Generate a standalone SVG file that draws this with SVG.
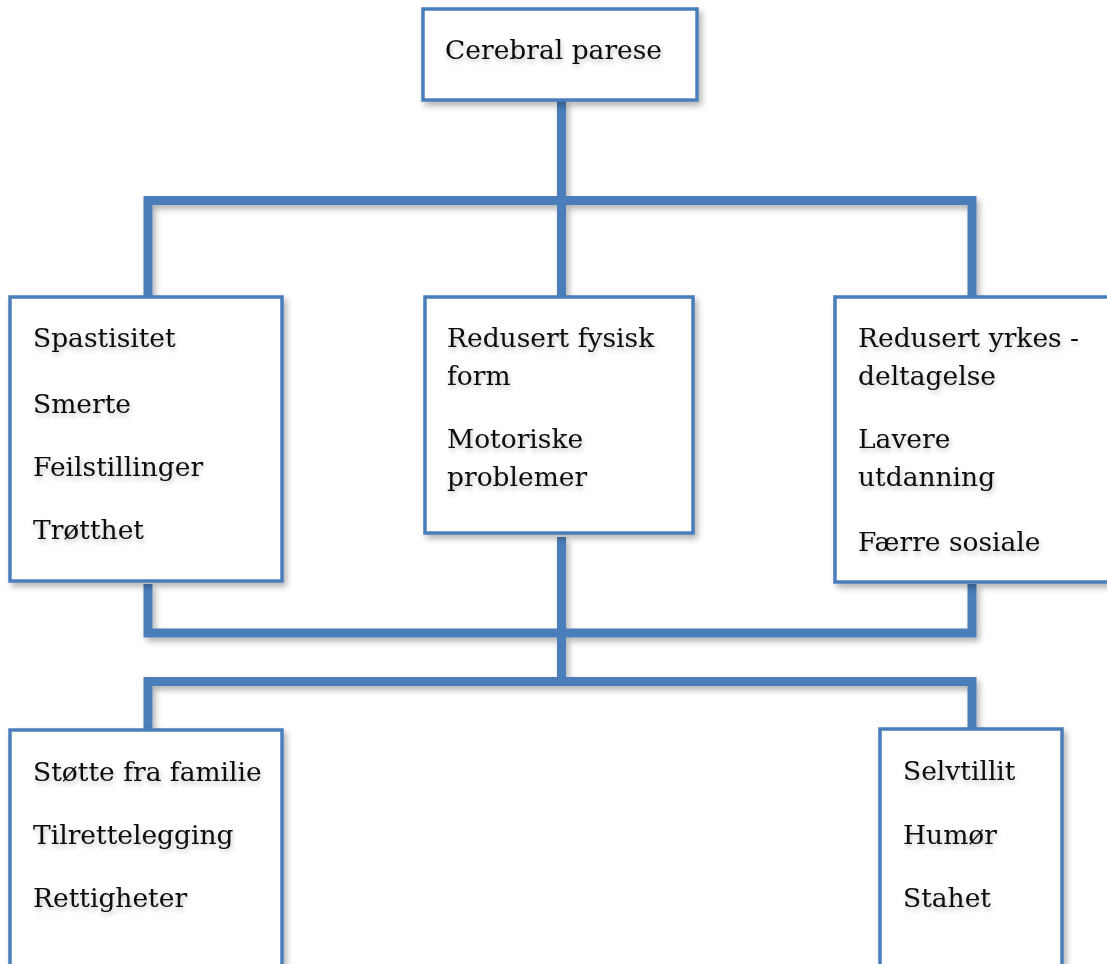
<svg xmlns="http://www.w3.org/2000/svg" width="1107" height="964" viewBox="0 0 1107 964">
<defs>
<filter id="sh" x="-10%" y="-10%" width="130%" height="130%">
<feGaussianBlur in="SourceAlpha" stdDeviation="3"/>
<feOffset dx="3" dy="4" result="b"/>
<feComponentTransfer><feFuncA type="linear" slope="0.3"/></feComponentTransfer>
<feMerge><feMergeNode/><feMergeNode in="SourceGraphic"/></feMerge>
</filter>
<filter id="tsh" x="-10%" y="-30%" width="120%" height="170%">
<feGaussianBlur in="SourceAlpha" stdDeviation="2.5"/>
<feOffset dx="1" dy="3" result="b"/>
<feComponentTransfer><feFuncA type="linear" slope="0.25"/></feComponentTransfer>
<feMerge><feMergeNode/><feMergeNode in="SourceGraphic"/></feMerge>
</filter>
</defs>
<style>
.box{fill:#fff;stroke:#4a7ebb;stroke-width:3.5}
.ln{fill:none;stroke:#4a7ebb;stroke-width:9;stroke-linecap:butt;stroke-linejoin:miter}
text{font-family:"DejaVu Serif","Liberation Serif",serif;font-size:26.5px;fill:#0a0a0a}
</style>
<rect width="1107" height="964" fill="#fff"/>
<g id="connectors" filter="url(#sh)">
<path class="ln" d="M561.5,100 V297"/>
<path class="ln" d="M148,297 V200.5 H972 V297"/>
<path class="ln" d="M148,584 V633 H972 V584"/>
<path class="ln" d="M561.5,537 V682"/>
<path class="ln" d="M148,730 V681.5 H972 V729"/>
</g>
<g id="n-top">
<rect class="box" x="423" y="9" width="274" height="91" filter="url(#sh)"/>
<text x="445" y="59" filter="url(#tsh)">Cerebral parese</text>
</g>
<g id="n-left">
<rect class="box" x="10" y="297" width="272" height="284" filter="url(#sh)"/>
<g filter="url(#tsh)">
<text x="33" y="347">Spastisitet</text>
<text x="33" y="413">Smerte</text>
<text x="33" y="476">Feilstillinger</text>
<text x="33" y="539">Trøtthet</text>
</g>
</g>
<g id="n-mid">
<rect class="box" x="425" y="297" width="268" height="236" filter="url(#sh)"/>
<g filter="url(#tsh)">
<text x="447" y="347">Redusert fysisk</text>
<text x="447" y="385">form</text>
<text x="447" y="448">Motoriske</text>
<text x="447" y="486">problemer</text>
</g>
</g>
<g id="n-right">
<rect class="box" x="835" y="297" width="290" height="285" filter="url(#sh)"/>
<g filter="url(#tsh)">
<text x="858" y="347">Redusert yrkes -</text>
<text x="858" y="385">deltagelse</text>
<text x="858" y="448">Lavere</text>
<text x="858" y="486">utdanning</text>
<text x="858" y="551">Færre sosiale</text>
</g>
</g>
<g id="n-botleft">
<rect class="box" x="10" y="730" width="272" height="260" filter="url(#sh)"/>
<g filter="url(#tsh)">
<text x="33" y="781">Støtte fra familie</text>
<text x="33" y="844">Tilrettelegging</text>
<text x="33" y="907">Rettigheter</text>
</g>
</g>
<g id="n-botright">
<rect class="box" x="880" y="729" width="182" height="260" filter="url(#sh)"/>
<g filter="url(#tsh)">
<text x="903" y="780">Selvtillit</text>
<text x="903" y="844">Humør</text>
<text x="903" y="907">Stahet</text>
</g>
</g>
</svg>
